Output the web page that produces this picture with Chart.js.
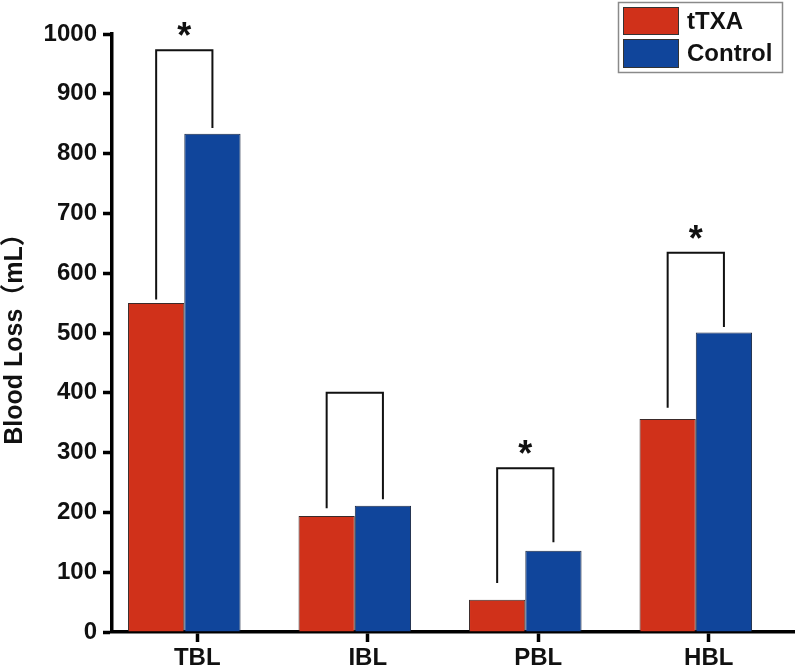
<!DOCTYPE html>
<html>
<head>
<meta charset="utf-8">
<script src="https://cdn.jsdelivr.net/npm/chart.js@4/dist/chart.umd.min.js"></script>
<style>
  html, body { margin: 0; padding: 0; background: #fff; }
  #wrap { width: 800px; height: 672px; }
</style>
</head>
<body>
<div id="wrap"><canvas id="lossChart"></canvas></div>
<script>
// Datos
const categorias = ['TBL', 'IBL', 'PBL', 'HBL'];
const tTXA = [550, 194, 54, 356];
const control = [833, 211, 136, 501];
const yTicks = [0, 100, 200, 300, 400, 500, 600, 700, 800, 900, 1000];

// Corchetes de significación: altura superior y pies de cada lado
const corcheteTop = [973, 400, 274, 634];
const corcheteIzq = [556, 207, 82, 375];
const corcheteDer = [843, 222, 150, 510];
const asterisco = [true, false, true, true];

const ROJO = '#d0311a';
const AZUL = '#10459b';
const FUENTE = '"Liberation Sans", Arial, "Noto Sans CJK SC", sans-serif';

// Leyenda y corchetes dibujados a mano
const extras = {
    id: 'extras',
    afterDatasetsDraw(chart) {
        const c = chart.ctx;
        const y = chart.scales.y;
        const m0 = chart.getDatasetMeta(0).data;
        const m1 = chart.getDatasetMeta(1).data;
        c.save();
        c.strokeStyle = '#111';
        c.lineWidth = 2;
        c.fillStyle = '#111';
        c.textAlign = 'center';
        c.textBaseline = 'middle';
        c.font = 'bold 36px ' + FUENTE;
        categorias.forEach((cat, i) => {
            const x1 = m0[i].x, x2 = m1[i].x;
            const yt = y.getPixelForValue(corcheteTop[i]);
            c.beginPath();
            c.moveTo(x1, y.getPixelForValue(corcheteIzq[i]));
            c.lineTo(x1, yt);
            c.lineTo(x2, yt);
            c.lineTo(x2, y.getPixelForValue(corcheteDer[i]));
            c.stroke();
            if (asterisco[i]) c.fillText('*', (x1 + x2) / 2, yt - 12);
        });
        // leyenda
        c.lineWidth = 1.5;
        c.strokeStyle = '#8a8a8a';
        c.strokeRect(618.5, 2.5, 164, 70);
        c.fillStyle = ROJO;
        c.fillRect(623, 7, 56, 28);
        c.fillStyle = AZUL;
        c.fillRect(623, 39, 56, 29);
        c.lineWidth = 1;
        c.strokeStyle = '#333';
        c.strokeRect(623.5, 7.5, 55, 27);
        c.strokeRect(623.5, 39.5, 55, 28);
        c.fillStyle = '#111';
        c.textAlign = 'left';
        c.font = 'bold 24px ' + FUENTE;
        c.fillText('tTXA', 687, 22);
        c.fillText('Control', 687, 54);
        c.restore();
    }
};

const ctx = document.getElementById('lossChart').getContext('2d');
const lossChart = new Chart(ctx, {
    type: 'bar',
    data: {
        labels: categorias,
        datasets: [{
            label: 'tTXA',
            data: tTXA.map((v, i) => ({ x: i, y: v })),
            backgroundColor: ROJO,
            borderColor: '#3a2a2a',
            borderWidth: 1,
            xAxisID: 'xb'
        }, {
            label: 'Control',
            data: control.map((v, i) => ({ x: i, y: v })),
            backgroundColor: AZUL,
            borderColor: '#1c2a44',
            borderWidth: 1,
            xAxisID: 'xb'
        }]
    },
    options: {
        responsive: true,
        maintainAspectRatio: false,
        animation: false,
        categoryPercentage: 0.66,
        barPercentage: 1.0,
        layout: { padding: { top: 34, right: 6, left: 0, bottom: 0 } },
        plugins: {
            legend: { display: false },
            tooltip: { enabled: false }
        },
        scales: {
            // eje de barras, desplazado a la izquierda respecto a las marcas
            xb: {
                type: 'linear',
                display: false,
                offset: false,
                grid: { offset: false },
                min: -0.424,
                max: 3.576,
                afterBuildTicks: s => { s.ticks = categorias.map((c, i) => ({ value: i })); }
            },
            x: {
                type: 'category',
                position: 'bottom',
                offset: true,
                afterFit: s => { s.height = 40; },
                border: { display: true, color: '#000', width: 3.5 },
                grid: { drawOnChartArea: false, tickLength: 10, tickColor: '#000', tickWidth: 3.5, offset: false },
                ticks: {
                    color: '#111',
                    padding: 2,
                    font: { family: FUENTE, size: 24, weight: 'bold' }
                }
            },
            y: {
                min: 0,
                max: 1000,
                afterFit: s => { s.width = 112; },
                afterBuildTicks: s => { s.ticks = yTicks.map(v => ({ value: v })); },
                border: { display: true, color: '#000', width: 3.5 },
                grid: { drawOnChartArea: false, tickLength: 9, tickColor: '#000', tickWidth: 3.5 },
                ticks: {
                    color: '#111',
                    padding: 6,
                    font: { family: FUENTE, size: 24, weight: 'bold' },
                    callback: v => String(v)
                },
                title: {
                    display: true,
                    text: 'Blood Loss（mL）',
                    color: '#111',
                    padding: 0,
                    font: { family: FUENTE, size: 25, weight: 'bold' }
                }
            }
        }
    },
    plugins: [extras]
});
</script>
</body>
</html>
